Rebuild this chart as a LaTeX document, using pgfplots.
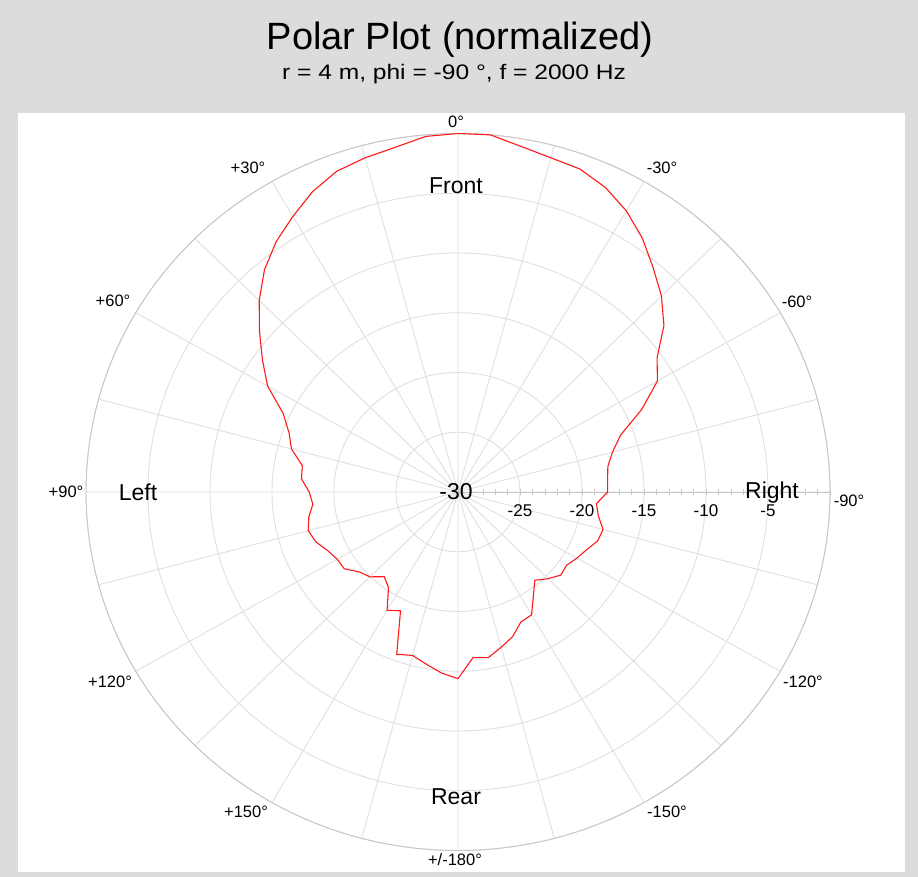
\documentclass[border=0pt]{standalone}
\usepackage{pgfplots}
\pgfplotsset{compat=1.18}
\usepackage{pgfplotstable}
\usepgfplotslibrary{polar}
\usepackage{fontspec}
\setmainfont{Liberation Sans}
\newfontfamily\widefont[FakeStretch=1.17]{Liberation Sans}
\definecolor{bggray}{RGB}{220,220,220}
\definecolor{gridgray}{RGB}{224,224,224}
\definecolor{outergray}{RGB}{198,198,198}
\definecolor{curvered}{RGB}{255,25,25}

% a = angle as labelled on the chart (0 = front, + = left), db = normalized level
\pgfplotstableread{
a db
0 0
5 -0.13
10 -0.72
15 -1.05
20 -1.43
25 -2.26
30 -3.37
35 -4.43
40 -5.72
45 -7.33
50 -9.1
55 -10.75
60 -12.27
65 -14.44
70 -15.5
75 -16.1
80 -17.25
85 -17.33
90 -18.0
95 -18.25
100 -17.78
105 -17.5
110 -17.8
115 -18.4
120 -18.75
125 -18.8
130 -19.6
135 -19.96
140 -20.75
145 -20.23
150 -18.56
155 -19.03
160 -15.55
165 -15.84
170 -15.36
175 -14.79
180 -14.38
-175 -16.09
-170 -15.93
-165 -16.55
-160 -17.12
-155 -18.0
-150 -18.13
-145 -19.4
-140 -20.36
-135 -19.74
-130 -19.18
-125 -19.31
-120 -18.93
-115 -18.56
-110 -18.02
-105 -17.89
-100 -18.51
-95 -18.79
-90 -17.94
-85 -17.89
-80 -17.73
-75 -17.1
-70 -16.04
-65 -13.65
-60 -11.43
-55 -10.4
-50 -8.32
-45 -6.8
-40 -5.51
-35 -4.08
-30 -2.84
-25 -1.88
-20 -1.24
-15 -1.05
-10 -0.64
-5 0
0 0
}\polardata

\begin{document}
\begin{tikzpicture}[x=1pt,y=1pt]
\fill[bggray] (0,0) rectangle (918,877);
\fill[white] (18,5) rectangle (905,764);
\node[font=\fontsize{38}{41}\selectfont] at (460,837) {Polar Plot (normalized)};
\node[font=\widefont\fontsize{21}{24}\selectfont] at (454,803) {r = 4 m, phi = -90 °, f = 2000 Hz};
\begin{polaraxis}[
  at={(458pt,385pt)}, anchor=center,
  scale only axis, width=744pt, height=717pt,
  ymin=0, ymax=30, xmin=0, xmax=360,
  xtick={0,15,...,345},
  xticklabels={},
  xtick style={draw=none},
  ytick={0,5,...,30},
  yticklabels={{},-25,-20,-15,-10,-5,{}},
  minor y tick num=4,
  ytick style={draw=outergray, line width=0.6pt},
  major tick length=6pt, minor tick length=6pt,
  tick align=center,
  grid=major,
  major grid style={draw=gridgray, line width=0.9pt},
  axis line style={draw=outergray, line width=0.9pt},
  yticklabel style={font=\fontsize{17}{19}\selectfont, anchor=north, yshift=-12pt},
  clip=false,
]
\addplot[curvered, line width=1.1pt, no markers] table[x expr=\thisrow{a}+90, y expr=\thisrow{db}+30]{\polardata};
\end{polaraxis}
% angle labels (0 = front, + = left)
\begin{scope}[every node/.style={font=\fontsize{16.5}{18}\selectfont}]
\node at (456,755) {0°};
\node at (248,709) {+30°};
\node at (113,576) {+60°};
\node at (66,385) {+90°};
\node at (110,195) {+120°};
\node at (246,65) {+150°};
\node at (455,17) {+/-180°};
\node at (667,65) {-150°};
\node at (803,195) {-120°};
\node at (849,376) {-90°};
\node at (797,575) {-60°};
\node at (662,709) {-30°};
\end{scope}
\node[font=\fontsize{23}{26}\selectfont] at (456,691) {Front};
\node[font=\fontsize{23}{26}\selectfont] at (456,80) {Rear};
\node[font=\fontsize{23}{26}\selectfont] at (138,385) {Left};
\node[font=\fontsize{23}{26}\selectfont] at (772,384) {Right};
\node[font=\fontsize{23}{26}\selectfont] at (456,385) {-30};
\end{tikzpicture}
\end{document}
